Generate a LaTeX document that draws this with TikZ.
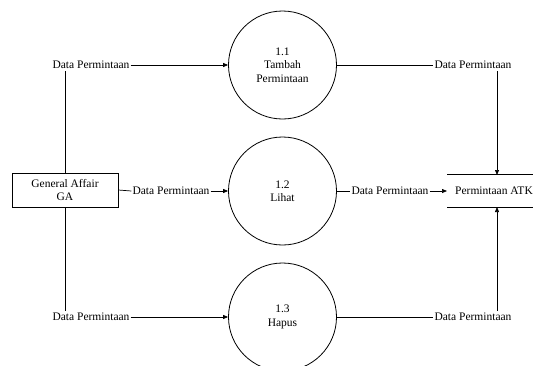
\documentclass[tikz,border=0pt]{standalone}
\usepackage{fontspec}
\setmainfont{Liberation Serif}
\usetikzlibrary{arrows.meta}
\begin{document}
\begin{tikzpicture}[x=1pt,y=-1pt,
  every node/.style={font=\fontsize{11.5}{13.5}\selectfont},
  proc/.style={circle,draw,line width=0.8pt,minimum size=108pt,inner sep=0pt,align=center},
  entity/.style={draw,line width=0.8pt,minimum width=106pt,minimum height=34pt,inner sep=0pt,align=center},
  flowlabel/.style={inner xsep=1pt,inner ysep=2pt},
  flow/.style={line width=0.7pt},
  arr/.style={flow,-{Triangle[length=5pt,width=4pt]}},
  storeline/.style={line width=0.8pt}
]
\useasboundingbox (0,0) rectangle (533,365);

% external entity and processes
\node[entity] (ga) at (65,190) {General Affair\\GA};
\node[proc] (p1) at (282.5,65) {1.1\\Tambah\\Permintaan};
\node[proc] (p2) at (282.5,191) {1.2\\Lihat};
\node[proc] (p3) at (282.5,317) {1.3\\Hapus};

% data store
\node[anchor=west,inner xsep=8pt,minimum height=32pt] (store) at (447,191) {Permintaan ATK};
\draw[storeline] (store.north west) -- ++(90,0);
\draw[storeline] (store.south west) -- ++(90,0);
\coordinate (stT) at (497,175);
\coordinate (stB) at (497,207);

% flow labels
\node[flowlabel] (l1) at (91,65) {Data Permintaan};
\node[flowlabel] (l2) at (91,317) {Data Permintaan};
\node[flowlabel] (l3) at (171,191) {Data Permintaan};
\node[flowlabel] (l4) at (390,191) {Data Permintaan};
\node[flowlabel] (l5) at (473,65) {Data Permintaan};
\node[flowlabel] (l6) at (473,317) {Data Permintaan};

% flows: entity to labels
\draw[flow] (ga.north) -- (ga.north |- l1.south);
\draw[flow] (ga.south) -- (ga.south |- l2.north);
\draw[flow] (ga.east) -- (l3.west);

% flows into processes
\draw[arr] (l1.east) -- (p1.west);
\draw[arr] (l3.east) -- (p2.west);
\draw[arr] (l2.east) -- (p3.west);

% flows out of processes to the store
\draw[flow] (p1.east) -- (l5.west);
\draw[arr] (stT |- l5.south) -- (stT);
\draw[flow] (p2.east) -- (l4.west);
\draw[arr] (l4.east) -- (store.west);
\draw[flow] (p3.east) -- (l6.west);
\draw[arr] (stB |- l6.north) -- (stB);
\end{tikzpicture}
\end{document}
